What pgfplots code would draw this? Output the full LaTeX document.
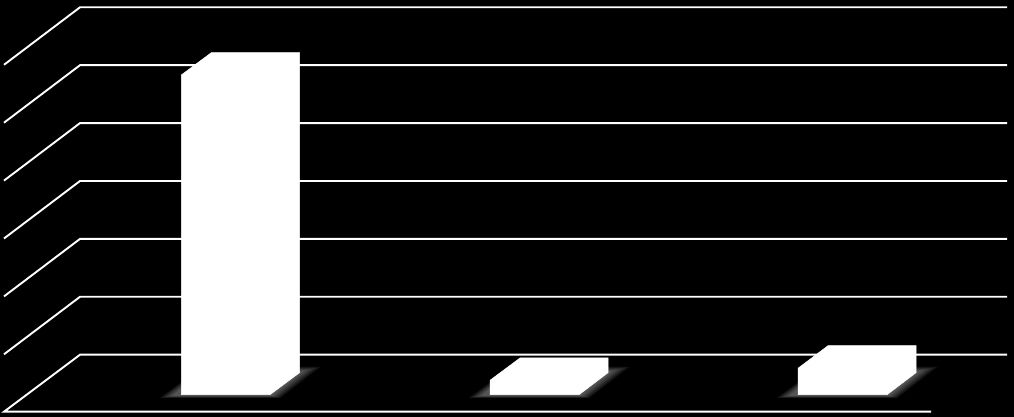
\documentclass[border=0pt]{standalone}
\usepackage{pgfplots}
\usepackage{pgfplotstable}
\pgfplotsset{compat=1.18}

% soft shadow under a bar, x relative to the bar's front left corner
\pgfplotstableread{
x1 y1 x2 y2 x3 y3 x4 y4 x5 y5
-21 19 -18 19.5 -15 20 -12 20.5 -9 21
99 19 97 19.5 95 20 93 20.5 91 21
139 50 135 49 131 48 127 47 123 46
21 50 21 49 21 48 21 47 21 46
}\shadowtable

\newcommand{\barshadow}[1]{%
  \addplot[shadowlayer] table[x expr=\thisrow{x1}+#1, y=y1] {\shadowtable} --cycle;
  \addplot[shadowlayer] table[x expr=\thisrow{x2}+#1, y=y2] {\shadowtable} --cycle;
  \addplot[shadowlayer] table[x expr=\thisrow{x3}+#1, y=y3] {\shadowtable} --cycle;
  \addplot[shadowlayer] table[x expr=\thisrow{x4}+#1, y=y4] {\shadowtable} --cycle;
  \addplot[shadowlayer] table[x expr=\thisrow{x5}+#1, y=y5] {\shadowtable} --cycle;
}

\tikzset{
  gridline/.style={white, line width=1.9pt, line join=miter},
  shadowlayer/.style={draw=none, fill=white, fill opacity=0.08},
  bar3d/.style={draw=white, fill=white, line width=0.5pt},
}

\begin{document}
\begin{tikzpicture}
\begin{axis}[
    scale only axis,
    width=1014pt,
    height=417pt,
    xmin=0, xmax=1014,
    ymin=0, ymax=417,
    axis lines=none,
    ticks=none,
]

% background
\addplot[draw=none, fill=black] coordinates {(0,0) (1014,0) (1014,417) (0,417)} --cycle;

% wall and side gridlines
\addplot[gridline] coordinates {(4,352.2) (80,409.7) (1007,409.7)};
\addplot[gridline] coordinates {(4,294.3) (80,351.8) (1007,351.8)};
\addplot[gridline] coordinates {(4,236.4) (80,293.9) (1007,293.9)};
\addplot[gridline] coordinates {(4,178.5) (80,236.0) (1007,236.0)};
\addplot[gridline] coordinates {(4,120.6) (80,178.1) (1007,178.1)};
\addplot[gridline] coordinates {(4,62.7) (80,120.2) (1007,120.2)};
\addplot[gridline] coordinates {(931,5.3) (4,5.3) (80,62.3) (1007,62.3)};

\barshadow{181}
\barshadow{490}
\barshadow{798}

% bars
\addplot[bar3d] coordinates {(181.3,22.3) (270,22.3) (299.5,44.3) (299.5,364.3) (211.3,364.3) (181.3,342)} --cycle;
\addplot[bar3d] coordinates {(490,22.3) (579,22.3) (608,44.3) (608,59) (520,59) (490,36.7)} --cycle;
\addplot[bar3d] coordinates {(798,22.3) (887,22.3) (916,44.3) (916,71.3) (828,71.3) (798,48.7)} --cycle;

\end{axis}
\end{tikzpicture}
\end{document}
